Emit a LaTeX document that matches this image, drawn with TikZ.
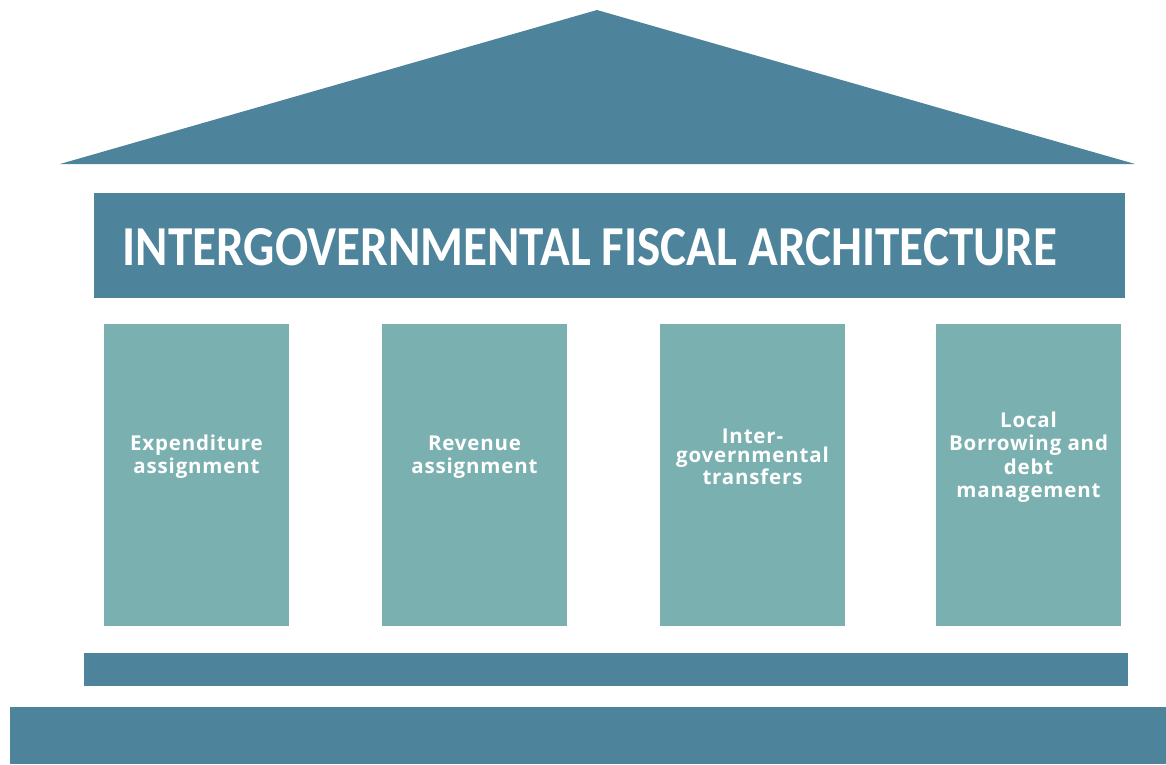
\documentclass[tikz,border=0pt]{standalone}
\usepackage{fontspec}
\setmainfont{Open Sans}
\newfontfamily\titlefont{Carlito}
\newfontfamily\pillarfont[LetterSpace=4]{Open Sans}
\definecolor{roofblue}{RGB}{78,132,155}
\definecolor{pillarteal}{RGB}{122,176,176}
\begin{document}
\begin{tikzpicture}[x=1pt,y=-1pt,
  darkblock/.style={fill=roofblue,draw=none,inner sep=0pt,outer sep=0pt},
  pillarbox/.style={fill=pillarteal,draw=none,inner sep=0pt,outer sep=0pt,
    minimum width=185pt,minimum height=302pt},
  pillarlabel/.style={text=white,align=center,inner sep=0pt,yshift=18pt,
    font=\pillarfont\bfseries\fontsize{20.5}{23}\selectfont}]
  % canvas
  \fill[white] (0,0) rectangle (1166,764);
  \useasboundingbox (0,0) rectangle (1166,764);
  % roof
  \fill[roofblue] (597,10) -- (1135,164) -- (60,164) -- cycle;
  % architrave with title
  \node[darkblock,minimum width=1031pt,minimum height=105pt] (banner) at (609.5,245.5) {};
  \node[text=white,inner sep=0pt] (title) at (590,247)
    {\resizebox{934pt}{37pt}{\titlefont\bfseries INTERGOVERNMENTAL FISCAL ARCHITECTURE}};
  % pillars
  \node[pillarbox] (p1) at (196.5,475) {};
  \node[pillarbox] (p2) at (474.5,475) {};
  \node[pillarbox] (p3) at (752.5,475) {};
  \node[pillarbox] (p4) at (1028.5,475) {};
  % pillar captions
  \node[pillarlabel] (l1) at (p1.center) {Expenditure\\assignment};
  \node[pillarlabel] (l2) at (p2.center) {Revenue\\assignment};
  \node[pillarlabel,font=\pillarfont\bfseries\fontsize{20.5}{19}\selectfont] (l3) at (p3.center)
    {Inter-\\governmental\\transfers};
  \node[pillarlabel,font=\pillarfont\bfseries\fontsize{20.5}{23.5}\selectfont] (l4) at (p4.center)
    {Local\\Borrowing and\\debt\\management};
  % steps
  \node[darkblock,minimum width=1044pt,minimum height=33pt] (plinth) at (606,669.5) {};
  \node[darkblock,minimum width=1156pt,minimum height=57pt] (base) at (588,735.5) {};
\end{tikzpicture}
\end{document}
